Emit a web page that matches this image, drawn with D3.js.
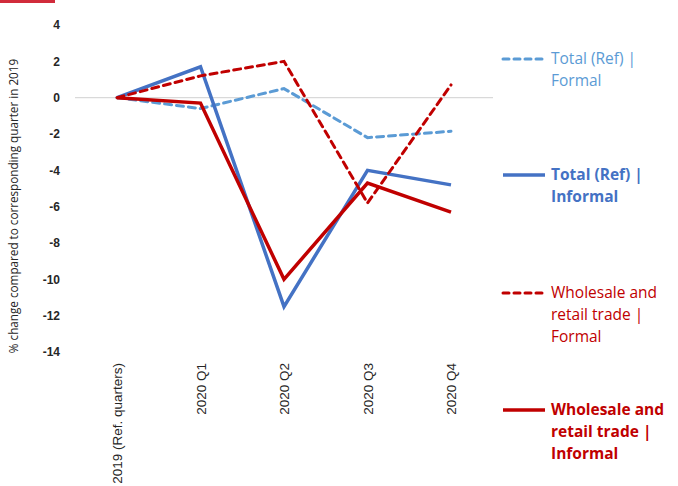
<!DOCTYPE html>
<html><head><meta charset="utf-8">
<script src="https://cdn.jsdelivr.net/npm/d3@7"></script>
<style>body{margin:0;background:#fff;} svg{display:block;font-family:"Open Sans","Liberation Sans",sans-serif;}</style>
</head><body>
<svg id="c" width="678" height="486"></svg>
<script>
const categories = ["2019 (Ref. quarters)", "2020 Q1", "2020 Q2", "2020 Q3", "2020 Q4"];
const totalFormal = [0, -0.6, 0.5, -2.2, -1.85];
const totalInformal = [0, 1.7, -11.5, -4.0, -4.8];
const wrtFormal = [0, 1.2, 2.0, -5.8, 0.7];
const wrtInformal = [0, -0.3, -10.0, -4.7, -6.3];
const yTicks = [4, 2, 0, -2, -4, -6, -8, -10, -12, -14];
const seriesNames = [["Total (Ref) |", "Formal"], ["Total (Ref) |", "Informal"], ["Wholesale and", "retail trade |", "Formal"], ["Wholesale and", "retail trade |", "Informal"]];

const series = [
  {name: seriesNames[0], values: totalFormal, color: "#5b9bd5", dash: "7,5", width: 3, bold: false, ly: 59},
  {name: seriesNames[1], values: totalInformal, color: "#4472c4", dash: null, width: 3.5, bold: true, ly: 175},
  {name: seriesNames[2], values: wrtFormal, color: "#c00000", dash: "7,5", width: 3, bold: false, ly: 293},
  {name: seriesNames[3], values: wrtInformal, color: "#c00000", dash: null, width: 3.5, bold: true, ly: 410}
];

const svg = d3.select("#c");
svg.append("rect").attr("x", 0).attr("y", 0).attr("width", 55).attr("height", 3).attr("fill", "#d12b3b");

const x = d3.scalePoint().domain(categories).range([117, 451]);
const y = d3.scaleLinear().domain([-14, 4]).range([352, 25]);

// zero gridline
svg.append("line").attr("x1", 75).attr("x2", 493).attr("y1", y(0)).attr("y2", y(0))
  .attr("stroke", "#d9d9d9").attr("stroke-width", 1.3);

// y axis labels
const yAxis = d3.axisLeft(y).tickValues(yTicks).tickSize(0).tickPadding(0).tickFormat(d => String(d));
const ya = svg.append("g").attr("transform", "translate(60,0)").call(yAxis);
ya.select(".domain").remove();
ya.selectAll("text").attr("font-size", 12).attr("font-weight", "bold").attr("fill", "#262626")
  .attr("font-family", "'Liberation Sans', sans-serif");

// y title
svg.append("text").attr("transform", "translate(18,206) rotate(-90)").attr("text-anchor", "middle")
  .attr("font-size", 11.7).attr("fill", "#262626").text("% change compared to corresponding quarter in 2019");

// x axis labels
const xAxis = d3.axisBottom(x).tickSize(0).tickPadding(0);
const xa = svg.append("g").attr("transform", "translate(0,363)").call(xAxis);
xa.select(".domain").remove();
xa.selectAll("text").attr("transform", "rotate(-90)").attr("text-anchor", "end")
  .attr("dy", "0.35em").attr("dx", 0).attr("y", 0).attr("x", 0)
  .attr("font-size", 13.5).attr("fill", "#262626");

const line = d3.line().x((d, i) => x(categories[i])).y(d => y(d));

series.forEach(s => {
  svg.append("path").datum(s.values).attr("d", line).attr("fill", "none")
    .attr("stroke", s.color).attr("stroke-width", s.width)
    .attr("stroke-dasharray", s.dash).attr("stroke-linejoin", "miter")
    .attr("stroke-linecap", s.dash ? "round" : "butt");
});

// legend
series.forEach(s => {
  svg.append("line").attr("x1", 503).attr("x2", 545).attr("y1", s.ly).attr("y2", s.ly)
    .attr("stroke", s.color).attr("stroke-width", s.width)
    .attr("stroke-dasharray", s.dash ? "6,5" : null).attr("stroke-linecap", s.dash ? "round" : "butt");
  const t = svg.append("text").attr("x", 551).attr("y", s.ly + 5).attr("font-size", 15.5)
    .attr("fill", s.color).attr("font-weight", s.bold ? "bold" : "normal");
  s.name.forEach((ln, i) => {
    t.append("tspan").attr("x", 551).attr("dy", i === 0 ? 0 : 22).text(ln);
  });
});
</script>
</body></html>
